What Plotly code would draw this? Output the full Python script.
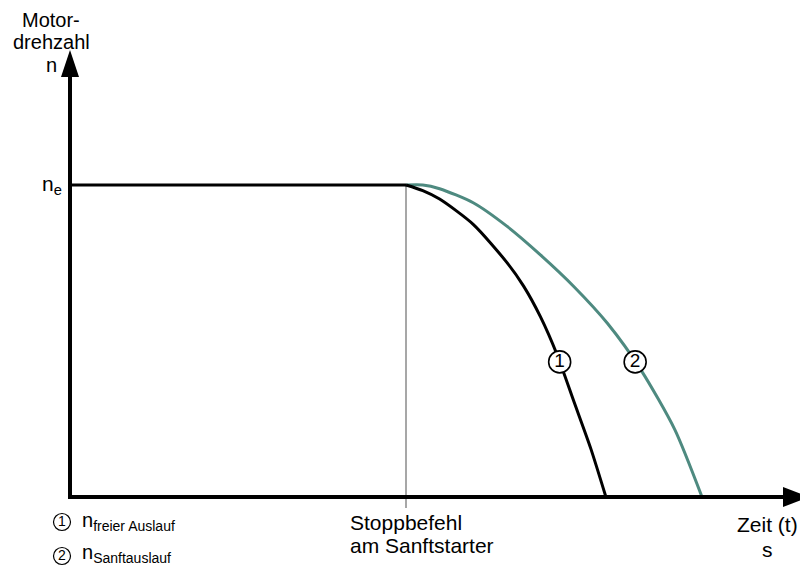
import numpy as np
import plotly.graph_objects as go

# ---- data (time in arbitrary units, speed relative to n_e) ----
t_stop = 10.0
flat_t = [0.0, 10.0]
flat_n = [1.0, 1.0]

free_t = [10.0, 10.5, 11.0, 12.0, 13.0, 13.5, 14.0, 14.5, 15.0, 15.5, 15.95]
free_n = [1.0, 0.982, 0.955, 0.874, 0.752, 0.676, 0.578, 0.455, 0.305, 0.155, 0.0]

soft_t = [10.0, 10.5, 11.0, 12.0, 13.0, 14.0, 15.0, 16.0, 17.0, 18.0, 18.81]
soft_n = [1.0, 1.0, 0.988, 0.943, 0.868, 0.776, 0.674, 0.556, 0.406, 0.216, 0.0]

label_n = 0.433  # speed level where circled numbers sit

W, H = 800, 567
OX, OY = 70, 497      # pixel origin
SX, SY = 33.6, 312.0  # pixels per unit

def dx(px):
    return (px - OX) / SX

def dy(py):
    return (OY - py) / SY

def pxp(px):
    return px / W

def pyp(py):
    return 1 - py / H

BLACK = "#000000"
TEAL = "#4e8a80"
FONT = "Liberation Sans, Arial, sans-serif"
FS = 21

fig = go.Figure()

# stop command vertical line
fig.add_trace(go.Scatter(x=[t_stop, t_stop], y=[1.0, dy(508)], mode="lines",
                         line=dict(color="#8a8a8a", width=1.5), hoverinfo="skip"))
# flat part n_e
fig.add_trace(go.Scatter(x=flat_t, y=flat_n, mode="lines",
                         line=dict(color=BLACK, width=3), hoverinfo="skip"))
# curve 2 soft stop
fig.add_trace(go.Scatter(x=soft_t, y=soft_n, mode="lines", line_shape="spline",
                         line=dict(color=TEAL, width=3, smoothing=0.7), hoverinfo="skip"))
# curve 1 free run-out
fig.add_trace(go.Scatter(x=free_t, y=free_n, mode="lines", line_shape="spline",
                         line=dict(color=BLACK, width=3, smoothing=0.7), hoverinfo="skip"))

# circled numbers on curves
c1x = float(np.interp(label_n, free_n[::-1], free_t[::-1]))
c2x = float(np.interp(label_n, soft_n[::-1], soft_t[::-1]))
fig.add_trace(go.Scatter(x=[c1x, c2x], y=[label_n, label_n], mode="markers+text",
                         marker=dict(symbol="circle", size=22, color="white",
                                     line=dict(color=BLACK, width=1.6)),
                         text=["1", "2"], textposition="middle center",
                         textfont=dict(family=FONT, size=19, color=BLACK),
                         hoverinfo="skip"))

# legend circles
fig.add_trace(go.Scatter(x=[dx(62), dx(62)], y=[dy(522), dy(556)], mode="markers+text",
                         marker=dict(symbol="circle", size=17, color="white",
                                     line=dict(color=BLACK, width=1.2)),
                         text=["1", "2"], textposition="middle center",
                         textfont=dict(family=FONT, size=14, color=BLACK),
                         hoverinfo="skip", cliponaxis=False))

# axes lines
shapes = [
    dict(type="line", x0=dx(70), y0=dy(499), x1=dx(70), y1=dy(74),
         line=dict(color=BLACK, width=4)),
    dict(type="line", x0=dx(68), y0=dy(497), x1=dx(786), y1=dy(497),
         line=dict(color=BLACK, width=4)),
    dict(type="path",
         path=f"M {dx(70)},{dy(50)} L {dx(61)},{dy(77)} L {dx(79)},{dy(77)} Z",
         fillcolor=BLACK, line=dict(color=BLACK, width=0)),
    dict(type="path",
         path=f"M {dx(809)},{dy(497)} L {dx(783)},{dy(487)} L {dx(783)},{dy(507)} Z",
         fillcolor=BLACK, line=dict(color=BLACK, width=0)),
]

def label(text, x, y, xanchor="center", size=FS):
    return dict(text=text, x=pxp(x), y=pyp(y), xref="paper", yref="paper",
                showarrow=False, xanchor=xanchor, yanchor="middle",
                font=dict(family=FONT, size=size, color=BLACK))

annotations = [
    label("Motor-", 51, 20, size=20),
    label("drehzahl", 51, 42, size=20),
    label("n", 51, 65, size=20),
    label("n<sub>e</sub>", 64, 185, xanchor="right"),
    label("Stoppbefehl", 348, 522, xanchor="left"),
    label("am Sanftstarter", 348, 545, xanchor="left"),
    label("Zeit (t)", 767, 524),
    label("s", 767, 549),
    label("n<sub>freier Auslauf</sub>", 80, 521, xanchor="left", size=20),
    label("n<sub>Sanftauslauf</sub>", 80, 553, xanchor="left", size=20),
]

fig.update_layout(
    width=W, height=H, margin=dict(l=0, r=0, t=0, b=0),
    paper_bgcolor="white", plot_bgcolor="white", showlegend=False,
    xaxis=dict(range=[dx(0), dx(W)], visible=False, fixedrange=True),
    yaxis=dict(range=[dy(H), dy(0)], visible=False, fixedrange=True),
    shapes=shapes, annotations=annotations,
)

fig.write_html("out.html", config={"displayModeBar": False},
               post_script="document.body.style.margin='0px';document.body.style.overflow='hidden';")
